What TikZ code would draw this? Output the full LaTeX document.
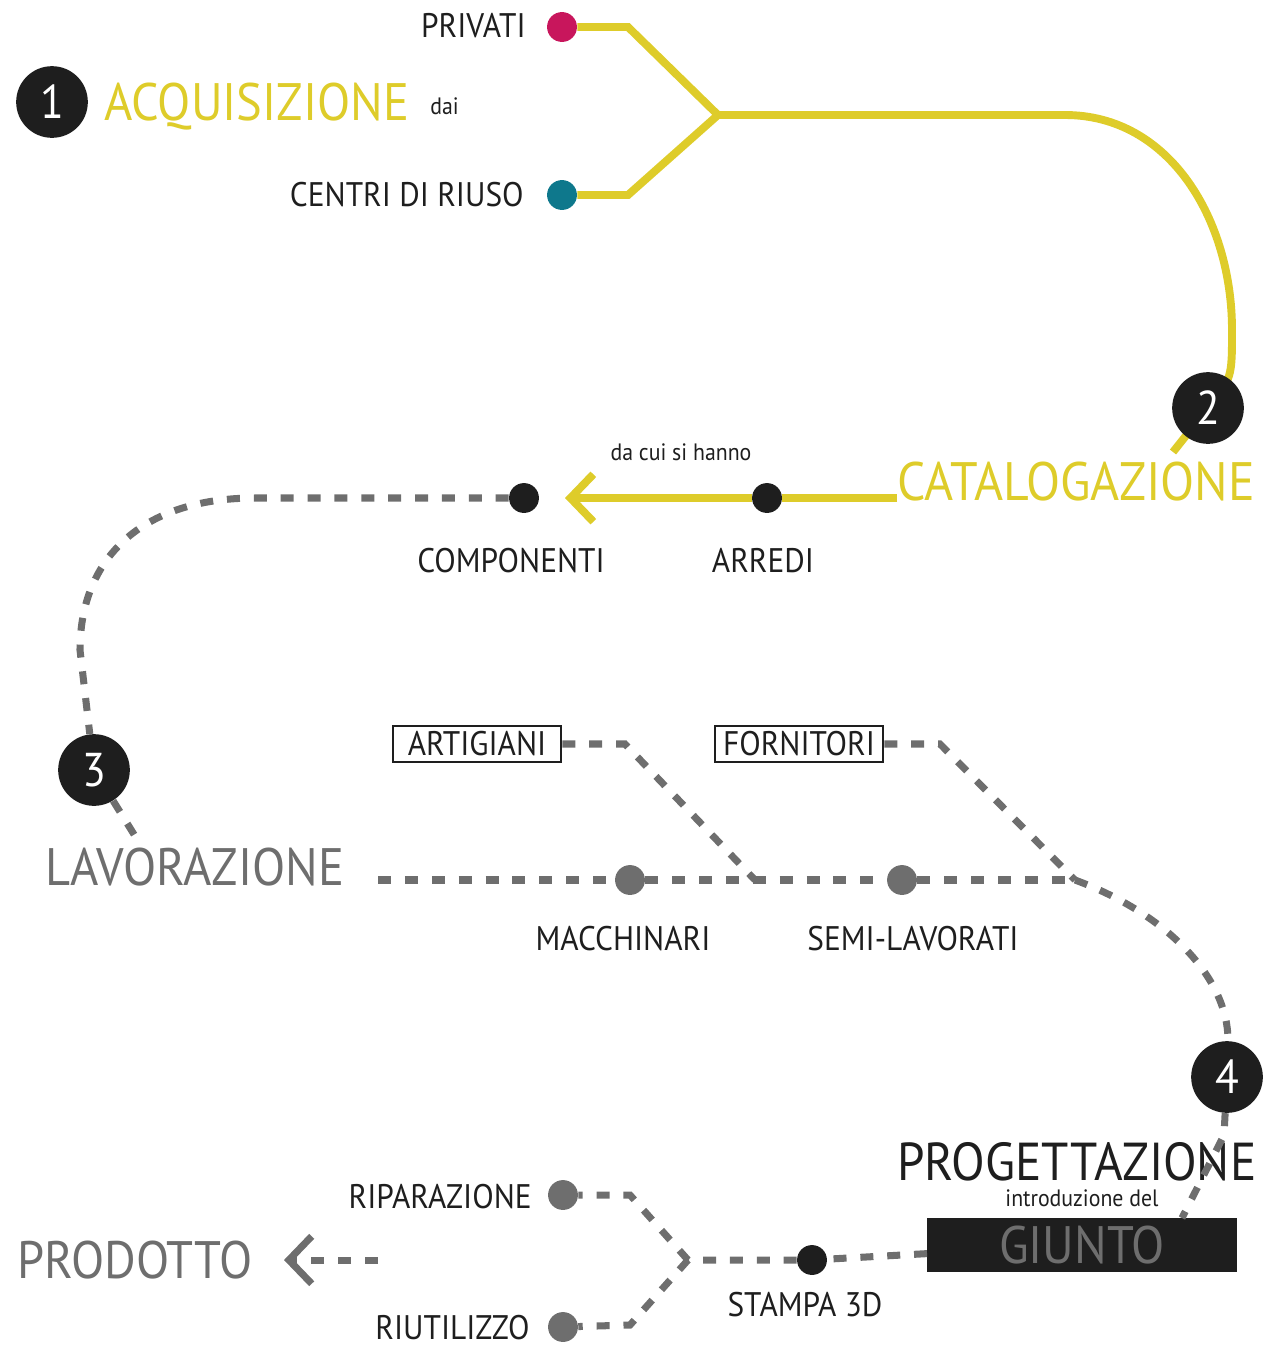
\documentclass[tikz,border=0pt]{standalone}
\usepackage{fontspec}
\setmainfont{PT Sans}[FakeStretch=0.92]
\usetikzlibrary{arrows.meta,backgrounds}

\definecolor{giallo}{RGB}{222,204,42}
\definecolor{magenta}{RGB}{200,22,92}
\definecolor{petrolio}{RGB}{14,120,140}
\definecolor{grigio}{RGB}{110,110,110}
\definecolor{nero}{RGB}{30,30,30}

\tikzset{
  num/.style={circle, fill=nero, text=white, minimum size=40.8pt, inner sep=0pt,
    font=\fontsize{27}{27}\selectfont},
  dot/.style={circle, minimum size=17pt, inner sep=0pt},
  fase/.style={inner sep=0pt, text depth=0pt, font=\fontsize{30}{30}\selectfont},
  voce/.style={inner sep=0pt, text=nero, font=\fontsize{19.4}{20}\selectfont},
  nota/.style={inner sep=0pt, text=nero, font=\fontsize{13.5}{14}\selectfont},
  riquadro/.style={draw=nero, line width=1.1pt, minimum width=96pt, minimum height=20.4pt,
    inner sep=0pt, text=nero, font=\fontsize{19.4}{20}\selectfont},
  yline/.style={draw=giallo, line width=4.5pt},
  gline/.style={draw=grigio, line width=4pt, dash pattern=on 7.4pt off 7.9pt},
  barb/.style={-{Straight Barb[length=13pt,width=27pt]}}
}

\begin{document}
\begin{tikzpicture}[x=0.02cm, y=-0.02cm]
  \useasboundingbox (0,0) rectangle (1262,1346);

  % 1 - acquisizione
  \node[num] (num1) at (52,102) {1};
  \node[fase, text=giallo, anchor=base west] (acquisizione) at (104,120) {ACQUISIZIONE};
  \node[nota, anchor=base west] (dai) at (430,114) {dai};
  \node[dot, fill=magenta] (privati) at (562,27) {};
  \node[voce, anchor=base east] (privatitxt) at (526,37) {PRIVATI};
  \node[dot, fill=petrolio] (centri) at (562,195) {};
  \node[voce, anchor=base east] (centritxt) at (524,206) {CENTRI DI RIUSO};
  \coordinate (fork) at (718,115);

  % 2 - catalogazione
  \node[num] (num2) at (1208,408) {2};
  \node[fase, text=giallo, anchor=base west, font=\fontsize{30.8}{31}\selectfont]
    (catalogazione) at (897,500) {CATALOGAZIONE};
  \coordinate (cat2) at (1173,452);
  \coordinate (catline) at (897,498);
  \coordinate (tip1) at (565,498);
  \node[nota, anchor=base] (dacui) at (681,460) {da cui si hanno};
  \node[dot, fill=nero] (arredi) at (767,498) {};
  \node[voce, anchor=base] (arreditxt) at (763,572) {ARREDI};
  \node[dot, fill=nero] (componenti) at (524,498) {};
  \node[voce, anchor=base] (componentitxt) at (511,572) {COMPONENTI};

  % 3 - lavorazione
  \node[num] (num3) at (94,770) {3};
  \node[fase, text=grigio, anchor=base west] (lavorazione) at (45,885) {LAVORAZIONE};
  \coordinate (lavstub) at (135,836);
  \coordinate (lavline) at (378,880);
  \coordinate (join) at (1075,880);
  \node[riquadro] (artigiani) at (477,744) {ARTIGIANI};
  \node[riquadro] (fornitori) at (799,744) {FORNITORI};
  \node[dot, fill=grigio] (macchinari) at (630,880) {};
  \node[voce, anchor=base] (macchinaritxt) at (623,950) {MACCHINARI};
  \node[dot, fill=grigio] (semilavorati) at (902,880) {};
  \node[voce, anchor=base] (semilavoratitxt) at (913,950) {SEMI-LAVORATI};

  % 4 - progettazione
  \node[num] (num4) at (1227,1077) {4};
  \node[fase, text=nero, anchor=base west, font=\fontsize{30.4}{31}\selectfont]
    (progettazione) at (897,1180) {PROGETTAZIONE};
  \node[nota, anchor=base] (introduzione) at (1082,1206) {introduzione del};
  \node[fill=nero, minimum width=176pt, minimum height=31pt, inner sep=0pt,
    text=grigio, font=\fontsize{30}{30}\selectfont] (giunto) at (1082,1245) {GIUNTO};
  \coordinate (giuntotop) at (1182,1218);
  \node[dot, fill=nero] (stampa) at (812,1260) {};
  \node[voce, anchor=base] (stampatxt) at (805,1316) {STAMPA 3D};
  \coordinate (split) at (688,1260);
  \node[dot, fill=grigio] (riparazione) at (563,1195) {};
  \node[voce, anchor=base east] (riparazionetxt) at (532,1208) {RIPARAZIONE};
  \node[dot, fill=grigio] (riutilizzo) at (563,1327) {};
  \node[voce, anchor=base east] (riutilizzotxt) at (530,1339) {RIUTILIZZO};
  \node[fase, text=grigio, anchor=base west] (prodotto) at (17,1278) {PRODOTTO};
  \coordinate (prodline) at (378,1260);
  \coordinate (tip2) at (284,1260);

  % Draw yellow line behind the numbers
  \begin{pgfonlayer}{background}
    \draw[yline] (privati) -- (628,27) -- (fork);
    \draw[yline] (centri) -- (628,195) -- (fork);
    \draw[yline] (fork) -- (1065,115) .. controls (1170,115) and (1232,220) .. (1232,330)
      .. controls (1232,378) .. (num2.center) -- (cat2);
  \end{pgfonlayer}
  \draw[yline] (catline) -- (arredi);
  \draw[yline, barb] (arredi) -- (tip1);

  % Draw dashed grey lines
  \draw[gline] (componenti) -- (255,498) .. controls (140,498) and (80,560) .. (80,650) -- (num3);
  \draw[gline] (num3) -- (lavstub);
  \draw[gline] (lavline) -- (macchinari) -- (semilavorati) -- (join);
  \draw[gline] (artigiani) -- (625,744) -- (755,880);
  \draw[gline] (fornitori) -- (940,744) -- (join);
  \draw[gline] (join) .. controls (1170,915) and (1228,980) .. (1228,1040) -- (num4);
  \draw[gline] (num4) -- (1224,1135) -- (giuntotop);
  \draw[gline] (giunto) -- (stampa) -- (split);
  \draw[gline] (split) -- (630,1195) -- (riparazione);
  \draw[gline] (split) -- (630,1325) -- (riutilizzo);
  \draw[gline, barb] (prodline) -- (tip2);

\end{tikzpicture}
\end{document}
